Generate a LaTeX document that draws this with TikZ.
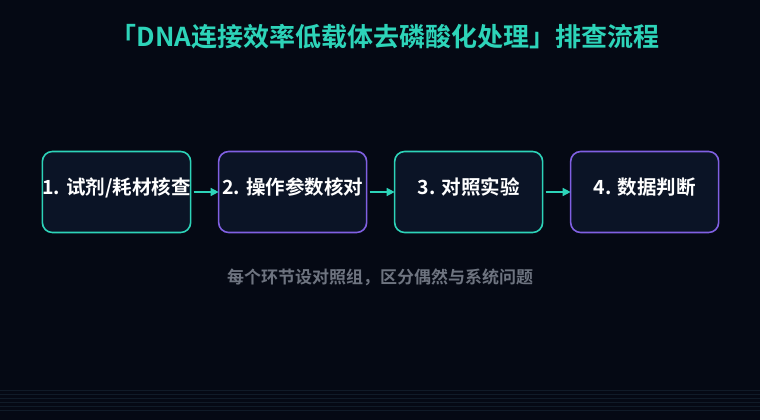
\documentclass[tikz,border=0pt]{standalone}
\usepackage{fontspec}
\setmainfont{Noto Sans CJK SC}[BoldFont={Noto Sans CJK SC Bold}]
\usetikzlibrary{positioning,arrows.meta}

\definecolor{bgdark}{RGB}{5,9,20}
\definecolor{boxfill}{RGB}{11,20,38}
\definecolor{tealc}{RGB}{45,212,185}
\definecolor{purplec}{RGB}{128,96,226}
\definecolor{notegray}{RGB}{110,116,128}
\definecolor{stripe}{RGB}{16,27,40}

\begin{document}
\begin{tikzpicture}[x=1pt,y=-1pt,
                    stepbox/.style={rectangle, rounded corners=10pt, fill=boxfill, line width=1.6pt, minimum width=148pt, minimum height=81pt, inner sep=0pt, outer sep=0pt, text depth=12pt, text=white, font=\fontsize{19.5}{22}\selectfont\bfseries},
                    tealbox/.style={stepbox, draw=tealc},
                    purplebox/.style={stepbox, draw=purplec},
                    flow/.style={-{Triangle[length=8pt,width=8pt]}, draw=tealc, line width=1.6pt}
                ]
                    \useasboundingbox (0,0) rectangle (760,420);
                    \fill[bgdark] (0,0) rectangle (760,420);
                    % faint stripes at the bottom
                    \foreach \yy in {390,394,...,410}
                        \draw[stripe, line width=0.5pt] (0,\yy) -- (760,\yy);

                    \node[text=tealc, font=\fontsize{26}{30}\selectfont\bfseries] (title) at (385,37) {「DNA连接效率低载体去磷酸化处理」排查流程};

                    \node[tealbox] (check) at (116.5,192) {1. 试剂/耗材核查};
                    \node[purplebox] (param) [right=28pt of check] {2. 操作参数核对};
                    \node[tealbox] (control) [right=28pt of param] {3. 对照实验};
                    \node[purplebox] (judge) [right=28pt of control] {4. 数据判断};

                    \draw[flow] ([xshift=3pt]check.east) -- (param.west);
                    \draw[flow] ([xshift=3pt]param.east) -- (control.west);
                    \draw[flow] ([xshift=3pt]control.east) -- (judge.west);

                    \node[text=notegray, font=\fontsize{17}{20}\selectfont\bfseries] (note) at (380,277) {每个环节设对照组，区分偶然与系统问题};
                \end{tikzpicture}
\end{document}
